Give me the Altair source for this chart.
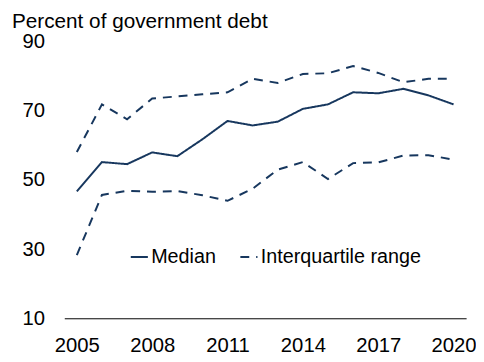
import altair as alt
import pandas as pd

years = list(range(2005, 2021))
median = [46.7, 55.2, 54.6, 58.0, 56.9, 61.8, 67.1, 65.8, 66.9, 70.6, 71.9, 75.4, 75.1, 76.4, 74.5, 71.9]
upper = [58.1, 71.9, 67.6, 73.6, 74.2, 74.8, 75.4, 79.3, 78.1, 80.7, 80.9, 83.0, 81.0, 78.3, 79.3, 79.3]
lower = [28.3, 45.7, 46.9, 46.6, 46.8, 45.6, 44.0, 47.5, 53.0, 55.2, 50.3, 54.9, 55.1, 57.1, 57.2, 55.9]

rows = []
for name, kind, vals in [("Median", "Median", median),
                         ("Upper", "Interquartile range", upper),
                         ("Lower", "Interquartile range", lower)]:
    for y, v in zip(years, vals):
        rows.append({"year": y, "value": v, "line": name, "kind": kind})
df = pd.DataFrame(rows)

color = "#17375e"
font = "Liberation Sans"

chart = alt.Chart(df).mark_line(strokeWidth=2, color=color).encode(
    x=alt.X("year:Q", scale=alt.Scale(domain=[2004.5, 2020.5], nice=False, zero=False),
            axis=alt.Axis(values=[2005, 2008, 2011, 2014, 2017, 2020], format="d", title=None,
                          grid=False, ticks=False, domain=True, domainColor="#000000",
                          domainWidth=1, labelFontSize=20.5, labelColor="#000000",
                          labelPadding=18, labelFont=font)),
    y=alt.Y("value:Q", scale=alt.Scale(domain=[10, 90], nice=False, zero=False),
            axis=alt.Axis(values=[10, 30, 50, 70, 90], title=None, grid=False, ticks=False,
                          domain=False, labelFontSize=20.5, labelColor="#000000",
                          labelPadding=20, labelFont=font)),
    detail="line:N",
    strokeDash=alt.StrokeDash("kind:N",
        scale=alt.Scale(domain=["Median", "Interquartile range"], range=[[1, 0], [9, 7]]),
        legend=alt.Legend(title=None, orient="none", legendX=66, legendY=208,
                          direction="horizontal", symbolType="stroke", symbolSize=300,
                          symbolStrokeColor=color, symbolStrokeWidth=2,
                          labelFontSize=20, labelColor="#000000", labelFont=font,
                          labelOffset=2, columnPadding=20, labelLimit=400)),
).properties(
    width=407, height=280,
    title=alt.Title("Percent of government debt", anchor="start", frame="group", dx=-53,
                    fontSize=21, fontWeight="normal", color="#000000",
                    font=font, offset=0),
    padding={"left": 57, "top": 32, "right": 10, "bottom": 40},
    autosize=alt.AutoSizeParams(type="none"),
).configure_view(stroke=None)

chart.save("out.html", embed_options={"renderer": "svg", "actions": False})
